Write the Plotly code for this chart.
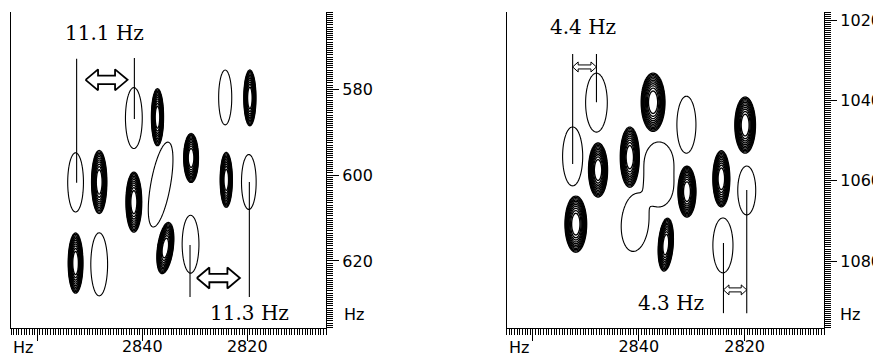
import numpy as np
import plotly.graph_objects as go

# ---------------- data ----------------
# Left spectrum: positive (multi-contour) peaks
lp_x = [2848.2, 2837.1, 2819.5, 2830.7, 2824.0, 2841.6, 2835.6, 2852.7]
lp_y = [601.6, 586.5, 582.0, 596.0, 601.1, 606.3, 617.0, 620.5]
lp_w = [2.9, 2.3, 2.3, 2.8, 2.3, 3.0, 3.0, 2.8]
lp_h = [14.7, 13.3, 13.0, 11.4, 12.8, 14.0, 11.9, 14.0]
lp_s = [0, 0, 0, 0, 0, 0, 0.10, 0]
# Left spectrum: negative (single contour) peaks
ln_x = [2841.6, 2824.2, 2852.7, 2836.5, 2819.7, 2848.2, 2830.8]
ln_y = [586.7, 581.9, 601.7, 602.2, 601.6, 620.8, 616.1]
ln_w = [3.2, 2.5, 3.0, 3.8, 2.8, 3.2, 3.2]
ln_h = [14.2, 12.8, 13.8, 19.8, 12.8, 14.7, 13.5]
ln_s = [0, 0, 0, 0.14, 0, 0, 0]

# Right spectrum: positive peaks
rp_x = [2851.9, 2847.7, 2841.7, 2837.3, 2834.9, 2830.9, 2824.4, 2819.9]
rp_y = [1070.8, 1057.3, 1054.1, 1040.4, 1075.9, 1062.7, 1059.5, 1046.1]
rp_w = [4.1, 3.6, 3.6, 4.5, 2.8, 3.4, 3.2, 3.9]
rp_h = [14.0, 13.5, 15.0, 14.5, 13.2, 12.7, 14.0, 14.0]
rp_s = [0, 0, 0, 0, 0.05, 0, 0, 0]
# Right spectrum: negative peaks (the 4th-6th form one merged feature)
rn_x = [2848.0, 2852.5, 2831.0, 2836.2, 2836.2, 2840.7, 2819.6, 2824.1]
rn_y = [1040.5, 1053.9, 1046.0, 1055.6, 1061.2, 1070.4, 1062.4, 1076.1]
rn_w = [4.1, 3.8, 3.6, 5.5, 5.5, 5.2, 3.4, 3.8]
rn_h = [14.7, 14.7, 14.2, 10.6, 10.6, 14.4, 12.2, 13.7]
rn_s = [0, 0, 0, 0, 0, 0.05, 0, 0]

# Coupling annotations
l_vline_x = [2852.5, 2841.5, 2830.9, 2819.6]
l_vline_y0 = [572.9, 572.7, 616.3, 601.6]
l_vline_y1 = [601.8, 586.9, 628.4, 628.4]
l_arrow_x0 = [2850.8, 2829.6]
l_arrow_x1 = [2842.8, 2821.4]
l_arrow_y = [577.8, 624.0]
l_label = ["11.1 Hz", "11.3 Hz"]
l_label_x = [2847.1, 2819.5]
l_label_y = [566.9, 632.1]

r_vline_x = [2852.5, 2848.0, 2824.0, 2819.6]
r_vline_y0 = [1028.4, 1028.4, 1075.5, 1062.3]
r_vline_y1 = [1055.8, 1040.4, 1093.0, 1093.0]
r_arrow_x0 = [2852.5, 2824.0]
r_arrow_x1 = [2848.0, 2819.6]
r_arrow_y = [1031.6, 1087.2]
r_label = ["4.4 Hz", "4.3 Hz"]
r_label_x = [2850.6, 2834.0]
r_label_y = [1021.6, 1090.5]

x_ticks = [2860, 2840, 2820]
x_ticktext = ["", "2840", "2820"]
l_y_ticks = [580, 600, 620]
r_y_ticks = [1020, 1040, 1060, 1080]

# ---------------- layout constants ----------------
# The page body adds an 8 px margin, so the figure is made 8 px smaller
# and every page position below is shifted by that offset.
OFF = 8
W, H = 881 - OFF, 362 - OFF
X_RANGE = (2865.0, 2805.0)
L_PX = (11.0 - OFF, 326.0 - OFF)
R_PX = (506.5 - OFF, 824.0 - OFF)
Y_PX = (12.0 - OFF, 328.0 - OFF)
L_YR = (561.98, 635.64)
R_YR = (1017.9, 1096.7)


def dom_x(px):
    return [px[0] / W, px[1] / W]


Y_DOM = [1 - Y_PX[1] / H, 1 - Y_PX[0] / H]


def logsum(xs, ys, px, py, pw, ph, ps):
    X, Y = np.meshgrid(xs, ys)
    tot = np.zeros_like(X)
    for cx, cy, w, h, s in zip(px, py, pw, ph, ps):
        sx, sy = w / 4.0, h / 4.0
        dx = (X - cx - s * (Y - cy)) / sx
        dy = (Y - cy) / sy
        tot += np.exp(-0.5 * (dx * dx + dy * dy))
    z = np.log(np.maximum(tot, 1e-4))
    return np.round(z, 3)


xs = np.round(np.arange(2805.0, 2865.001, 0.2), 2)
ys_l = np.round(np.arange(L_YR[0], L_YR[1] + 0.001, 0.25), 2)
ys_r = np.round(np.arange(R_YR[0], R_YR[1] + 0.001, 0.25), 2)

fig = go.Figure()


def add_contours(xa, ya, ys, px, py, pw, ph, ps, nx, ny, nw, nh, ns):
    zp = logsum(xs, ys, px, py, pw, ph, ps)
    zn = logsum(xs, ys, nx, ny, nw, nh, ns)
    fig.add_trace(go.Contour(
        x=xs, y=ys, z=zp, xaxis=xa, yaxis=ya, showscale=False,
        contours=dict(coloring="none", start=-2.0, end=-0.15, size=0.17),
        line=dict(color="black", width=1.35, smoothing=1.0),
        hoverinfo="skip", autocontour=False))
    fig.add_trace(go.Contour(
        x=xs, y=ys, z=zn, xaxis=xa, yaxis=ya, showscale=False,
        contours=dict(coloring="none", start=-2.0, end=-2.0, size=1.0),
        line=dict(color="black", width=1.1, smoothing=1.0),
        hoverinfo="skip", autocontour=False))


add_contours("x", "y", ys_l, lp_x, lp_y, lp_w, lp_h, lp_s, ln_x, ln_y, ln_w, ln_h, ln_s)
add_contours("x2", "y2", ys_r, rp_x, rp_y, rp_w, rp_h, rp_s, rn_x, rn_y, rn_w, rn_h, rn_s)


def add_arrows(xa, ya, ppx, yr, x0s, x1s, yc_s, head_len, head_half, shaft_half, lw):
    sx = (ppx[1] - ppx[0]) / (X_RANGE[0] - X_RANGE[1])   # px per Hz
    sy = (Y_PX[1] - Y_PX[0]) / (yr[1] - yr[0])
    for x0, x1, yc in zip(x0s, x1s, yc_s):
        L = (x0 - x1) * sx
        pts = [(0, 0), (head_len, -head_half), (head_len, -shaft_half),
               (L - head_len, -shaft_half), (L - head_len, -head_half), (L, 0),
               (L - head_len, head_half), (L - head_len, shaft_half),
               (head_len, shaft_half), (head_len, head_half), (0, 0)]
        fig.add_trace(go.Scatter(
            x=[x0 - p[0] / sx for p in pts], y=[yc + p[1] / sy for p in pts],
            xaxis=xa, yaxis=ya, mode="lines", line=dict(color="black", width=lw),
            hoverinfo="skip", showlegend=False))


add_arrows("x", "y", L_PX, L_YR, l_arrow_x0, l_arrow_x1, l_arrow_y, 12.5, 10.5, 4.2, 1.8)
add_arrows("x2", "y2", R_PX, R_YR, r_arrow_x0, r_arrow_x1, r_arrow_y, 5.5, 5.0, 2.0, 1.0)

shapes = []
for xv, a, b in zip(l_vline_x, l_vline_y0, l_vline_y1):
    shapes.append(dict(type="line", xref="x", yref="y", x0=xv, x1=xv, y0=a, y1=b,
                       line=dict(color="black", width=1.1)))
for xv, a, b in zip(r_vline_x, r_vline_y0, r_vline_y1):
    shapes.append(dict(type="line", xref="x2", yref="y2", x0=xv, x1=xv, y0=a, y1=b,
                       line=dict(color="black", width=1.1)))

annotations = []
serif = dict(family="DejaVu Serif", size=20, color="black")
sans = dict(family="DejaVu Sans", size=16, color="black")
for t, xv, yv in zip(l_label, l_label_x, l_label_y):
    annotations.append(dict(text=t, x=xv, y=yv, xref="x", yref="y", showarrow=False,
                            font=serif, xanchor="center", yanchor="middle"))
for t, xv, yv in zip(r_label, r_label_x, r_label_y):
    annotations.append(dict(text=t, x=xv, y=yv, xref="x2", yref="y2", showarrow=False,
                            font=serif, xanchor="center", yanchor="middle"))
# unit labels (page pixel positions)
for xpx, ypx in [(11, 347), (506.5, 347), (342, 314), (838, 314)]:
    annotations.append(dict(text="Hz", x=(xpx - OFF) / W, y=1 - (ypx - OFF) / H,
                            xref="paper", yref="paper", showarrow=False, font=sans,
                            xanchor="left", yanchor="middle"))

common_x = dict(range=list(X_RANGE), showline=True, linecolor="black", linewidth=1.2,
                ticks="outside", ticklen=12, tickwidth=1, tickcolor="black",
                tickmode="array", tickvals=x_ticks, ticktext=x_ticktext,
                ticklabelstandoff=-8,
                tickfont=sans, showgrid=False, zeroline=False, automargin=False,
                minor=dict(ticks="outside", ticklen=6, tickwidth=0.8, tickcolor="black",
                           tickmode="linear", tick0=0, dtick=0.5, showgrid=False))
common_y = dict(showline=True, linecolor="black", linewidth=1.2, mirror=True, side="right",
                ticks="outside", ticklen=12, tickwidth=1, tickcolor="black",
                tickmode="array", tickfont=sans, showgrid=False, zeroline=False,
                automargin=False,
                minor=dict(ticks="outside", ticklen=6, tickwidth=0.8, tickcolor="black",
                           tickmode="linear", tick0=0, dtick=0.5, showgrid=False))

fig.update_layout(
    width=W, height=H, margin=dict(l=0, r=0, t=0, b=0),
    paper_bgcolor="white", plot_bgcolor="white", showlegend=False,
    xaxis=dict(domain=dom_x(L_PX), anchor="y", **common_x),
    yaxis=dict(domain=Y_DOM, anchor="x", range=[L_YR[1], L_YR[0]],
               tickvals=l_y_ticks, ticktext=[str(v) for v in l_y_ticks], **common_y),
    xaxis2=dict(domain=dom_x(R_PX), anchor="y2", **common_x),
    yaxis2=dict(domain=Y_DOM, anchor="x2", range=[R_YR[1], R_YR[0]],
                tickvals=r_y_ticks, ticktext=[str(v) for v in r_y_ticks], **common_y),
    shapes=shapes, annotations=annotations,
)

fig.write_html("out.html")
